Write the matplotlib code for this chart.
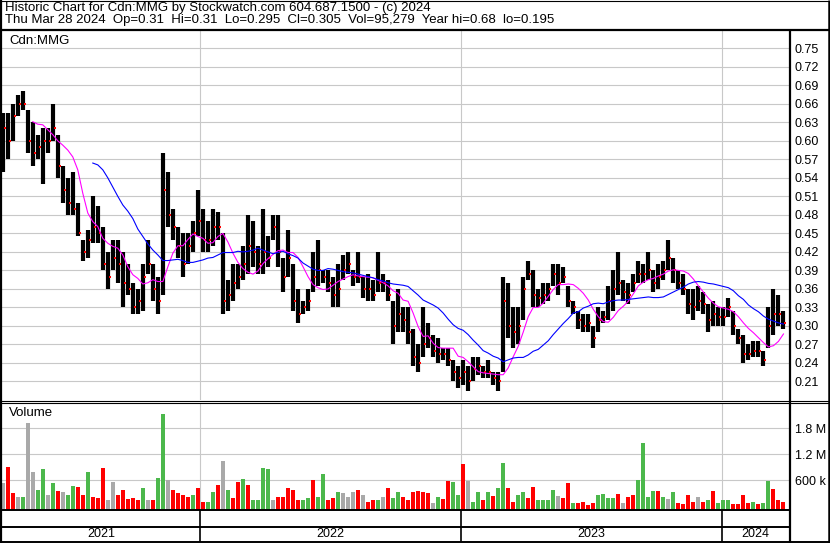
import numpy as np
import pandas as pd
import matplotlib
matplotlib.use('Agg')
import matplotlib.pyplot as plt

plt.rcParams['font.family'] = ['Liberation Sans', 'DejaVu Sans']
FS = 9.0      # numbers
FT = 9.5      # words

# weekly bars (week starting Mondays)
week_start = '2021-03-29'
hi = [0.645, 0.645, 0.66, 0.675, 0.68, 0.65, 0.63, 0.61, 0.62, 0.62,
      0.66, 0.61, 0.56, 0.54, 0.55, 0.50, 0.44, 0.455, 0.51, 0.495,
      0.46, 0.42, 0.44, 0.44, 0.42, 0.40, 0.37, 0.36, 0.40, 0.44,
      0.40, 0.38, 0.58, 0.55, 0.49, 0.46, 0.45, 0.45, 0.47, 0.52,
      0.49, 0.47, 0.49, 0.485, 0.45, 0.375, 0.40, 0.40, 0.43, 0.48,
      0.47, 0.43, 0.49, 0.445, 0.48, 0.48, 0.41, 0.455, 0.40, 0.36,
      0.34, 0.36, 0.42, 0.44, 0.39, 0.39, 0.38, 0.40, 0.415, 0.42,
      0.39, 0.42, 0.38, 0.385, 0.375, 0.42, 0.385, 0.375, 0.34, 0.36,
      0.33, 0.33, 0.295, 0.27, 0.33, 0.305, 0.285, 0.28, 0.265, 0.265,
      0.245, 0.235, 0.245, 0.235, 0.25, 0.25, 0.235, 0.245, 0.225, 0.225,
      0.38, 0.37, 0.33, 0.33, 0.38, 0.405, 0.39, 0.36, 0.37, 0.37,
      0.40, 0.40, 0.395, 0.365, 0.34, 0.325, 0.32, 0.32, 0.30, 0.33,
      0.325, 0.365, 0.39, 0.42, 0.375, 0.37, 0.385, 0.405, 0.40, 0.42,
      0.39, 0.40, 0.405, 0.44, 0.41, 0.39, 0.385, 0.36, 0.36, 0.365,
      0.355, 0.335, 0.34, 0.33, 0.33, 0.345, 0.325, 0.295, 0.285, 0.27,
      0.275, 0.275, 0.26, 0.33, 0.36, 0.35, 0.325]
lo = [0.55, 0.57, 0.60, 0.64, 0.65, 0.58, 0.56, 0.57, 0.53, 0.58,
      0.60, 0.54, 0.50, 0.48, 0.48, 0.445, 0.405, 0.41, 0.435, 0.435,
      0.39, 0.36, 0.39, 0.37, 0.33, 0.35, 0.32, 0.32, 0.325, 0.385,
      0.34, 0.32, 0.35, 0.46, 0.44, 0.41, 0.38, 0.40, 0.42, 0.445,
      0.42, 0.42, 0.43, 0.44, 0.32, 0.325, 0.34, 0.36, 0.375, 0.385,
      0.395, 0.385, 0.385, 0.395, 0.44, 0.395, 0.355, 0.38, 0.325, 0.305,
      0.32, 0.325, 0.355, 0.365, 0.37, 0.355, 0.33, 0.33, 0.375, 0.385,
      0.365, 0.37, 0.345, 0.34, 0.34, 0.355, 0.355, 0.34, 0.27, 0.29,
      0.29, 0.27, 0.235, 0.225, 0.25, 0.265, 0.25, 0.24, 0.245, 0.235,
      0.21, 0.20, 0.205, 0.195, 0.21, 0.22, 0.215, 0.215, 0.205, 0.195,
      0.225, 0.28, 0.265, 0.27, 0.31, 0.375, 0.33, 0.33, 0.335, 0.34,
      0.365, 0.35, 0.37, 0.33, 0.32, 0.295, 0.29, 0.29, 0.265, 0.29,
      0.305, 0.31, 0.325, 0.35, 0.34, 0.335, 0.355, 0.37, 0.37, 0.375,
      0.355, 0.36, 0.375, 0.39, 0.37, 0.36, 0.35, 0.32, 0.31, 0.325,
      0.32, 0.29, 0.30, 0.30, 0.30, 0.315, 0.285, 0.27, 0.24, 0.245,
      0.25, 0.25, 0.235, 0.265, 0.285, 0.30, 0.295]
cl = [0.62, 0.60, 0.64, 0.66, 0.66, 0.60, 0.58, 0.59, 0.60, 0.60,
      0.62, 0.56, 0.52, 0.50, 0.49, 0.45, 0.42, 0.44, 0.46, 0.45,
      0.40, 0.38, 0.41, 0.40, 0.37, 0.36, 0.33, 0.34, 0.38, 0.40,
      0.36, 0.34, 0.52, 0.48, 0.46, 0.43, 0.40, 0.43, 0.45, 0.47,
      0.44, 0.44, 0.46, 0.46, 0.34, 0.35, 0.37, 0.38, 0.40, 0.43,
      0.42, 0.40, 0.42, 0.41, 0.46, 0.42, 0.38, 0.41, 0.34, 0.32,
      0.33, 0.34, 0.38, 0.39, 0.38, 0.37, 0.35, 0.36, 0.39, 0.40,
      0.38, 0.38, 0.36, 0.36, 0.35, 0.37, 0.37, 0.35, 0.30, 0.32,
      0.31, 0.29, 0.25, 0.24, 0.27, 0.28, 0.26, 0.255, 0.255, 0.245,
      0.225, 0.215, 0.225, 0.21, 0.23, 0.235, 0.225, 0.225, 0.215, 0.21,
      0.34, 0.30, 0.29, 0.30, 0.36, 0.385, 0.35, 0.345, 0.35, 0.36,
      0.385, 0.37, 0.38, 0.34, 0.33, 0.31, 0.30, 0.305, 0.28, 0.31,
      0.315, 0.34, 0.36, 0.37, 0.355, 0.35, 0.37, 0.385, 0.385, 0.39,
      0.37, 0.38, 0.39, 0.41, 0.39, 0.37, 0.36, 0.335, 0.33, 0.34,
      0.335, 0.31, 0.32, 0.315, 0.315, 0.33, 0.30, 0.28, 0.255, 0.255,
      0.26, 0.26, 0.245, 0.30, 0.32, 0.32, 0.305]

# moving averages as drawn (magenta from week 6, blue from week 18)
ma_short_start = 6
ma_short = [0.631, 0.627, 0.626, 0.618, 0.61, 0.60, 0.593, 0.585, 0.574, 0.553,
            0.515, 0.483, 0.469, 0.461, 0.442, 0.434, 0.429, 0.426, 0.415, 0.396,
            0.383, 0.377, 0.368, 0.37, 0.375, 0.372, 0.372, 0.396, 0.418, 0.43,
            0.43, 0.44, 0.449, 0.445, 0.442, 0.434, 0.435, 0.445, 0.45, 0.436,
            0.418, 0.403, 0.393, 0.387, 0.384, 0.389, 0.401, 0.409, 0.416, 0.422,
            0.423, 0.419, 0.419, 0.411, 0.396, 0.38, 0.367, 0.362, 0.359, 0.36,
            0.366, 0.372, 0.376, 0.38, 0.383, 0.381, 0.38, 0.379, 0.378, 0.374,
            0.37, 0.365, 0.357, 0.353, 0.342, 0.34, 0.321, 0.299, 0.283, 0.284,
            0.272, 0.265, 0.264, 0.264, 0.264, 0.251, 0.249, 0.242, 0.234, 0.226,
            0.224, 0.223, 0.222, 0.221, 0.221, 0.232, 0.25, 0.267, 0.29, 0.315,
            0.33, 0.33, 0.337, 0.348, 0.359, 0.367, 0.367, 0.368, 0.367, 0.361,
            0.353, 0.342, 0.327, 0.315, 0.307, 0.306, 0.314, 0.325, 0.332, 0.34,
            0.352, 0.365, 0.371, 0.375, 0.377, 0.381, 0.384, 0.389, 0.391, 0.39,
            0.389, 0.385, 0.376, 0.365, 0.355, 0.345, 0.337, 0.331, 0.329, 0.327,
            0.323, 0.315, 0.305, 0.296, 0.289, 0.281, 0.273, 0.266, 0.268, 0.275, 0.287]
ma_long_start = 18
ma_long = [0.564, 0.561, 0.553, 0.54, 0.525, 0.51, 0.496, 0.486, 0.474, 0.457,
           0.445, 0.433, 0.423, 0.415, 0.406, 0.406, 0.407, 0.408, 0.406, 0.403,
           0.403, 0.405, 0.407, 0.41, 0.411, 0.415, 0.419, 0.419, 0.419, 0.421,
           0.42, 0.421, 0.423, 0.426, 0.423, 0.42, 0.417, 0.419, 0.421, 0.417,
           0.414, 0.41, 0.402, 0.397, 0.392, 0.39, 0.39, 0.393, 0.392, 0.39,
           0.388, 0.387, 0.386, 0.384, 0.382, 0.38, 0.378, 0.375, 0.373, 0.37,
           0.368, 0.367, 0.366, 0.364, 0.357, 0.35, 0.342, 0.338, 0.334, 0.329,
           0.321, 0.311, 0.302, 0.296, 0.293, 0.286, 0.277, 0.269, 0.26, 0.256,
           0.251, 0.248, 0.242, 0.245, 0.248, 0.249, 0.249, 0.253, 0.259, 0.262,
           0.269, 0.276, 0.286, 0.295, 0.304, 0.312, 0.321, 0.323, 0.329, 0.332,
           0.336, 0.337, 0.336, 0.339, 0.341, 0.342, 0.342, 0.343, 0.344, 0.345,
           0.346, 0.347, 0.346, 0.346, 0.347, 0.351, 0.355, 0.359, 0.363, 0.368,
           0.371, 0.372, 0.371, 0.369, 0.368, 0.366, 0.364, 0.362, 0.357, 0.349,
           0.343, 0.334, 0.328, 0.323, 0.316, 0.311, 0.308, 0.305, 0.303]

# biggest daily volume in each week (thousands) and its direction (1 up, -1 down, 0 flat)
vol_k = [530, 915, 300, 220, 220, 1915, 800, 380, 860, 260,
         530, 360, 340, 260, 470, 440, 260, 800, 220, 185,
         877, 145, 570, 260, 377, 160, 185, 145, 415, 145,
         145, 660, 2130, 610, 377, 300, 260, 220, 260, 430,
         110, 110, 340, 490, 1050, 377, 185, 570, 630, 490,
         145, 145, 877, 860, 145, 220, 220, 415, 377, 145,
         145, 185, 610, 220, 745, 145, 185, 325, 300, 220,
         340, 377, 260, 110, 145, 145, 220, 415, 185, 320,
         210, 145, 320, 350, 320, 300, 70, 210, 170, 585,
         560, 270, 977, 585, 110, 330, 145, 330, 240, 415,
         1000, 430, 110, 260, 330, 200, 450, 145, 145, 145,
         377, 245, 185, 540, 70, 70, 100, 30, 70, 260,
         275, 185, 185, 275, 80, 210, 260, 610, 1470, 225,
         350, 350, 225, 170, 330, 70, 55, 260, 110, 215,
         110, 145, 350, 70, 145, 145, 55, 55, 260, 70,
         90, 45, 85, 585, 400, 145, 90]
vol_dir = [0, -1, -1, 0, 1, 0, 0, 1, 1, 0,
           1, -1, 0, 1, 1, -1, -1, 1, -1, -1,
           -1, 0, 0, -1, -1, -1, -1, -1, 1, 0,
           -1, 1, 1, 0, -1, -1, -1, -1, 1, -1,
           -1, 1, 1, -1, 0, 1, -1, -1, 1, -1,
           1, 1, 1, 1, 0, -1, -1, -1, -1, -1,
           1, 1, -1, 1, 1, -1, -1, 1, 0, 0,
           0, -1, 0, -1, -1, 1, 0, -1, 1, 1,
           -1, -1, -1, -1, -1, -1, 0, 1, -1, -1,
           1, 1, -1, 0, 1, 1, -1, 1, -1, 1,
           1, -1, -1, 1, 1, -1, -1, 1, 1, 1,
           1, 0, -1, -1, 1, -1, -1, -1, -1, 1,
           1, 1, 1, -1, 0, -1, -1, 1, 1, 1,
           1, -1, 1, 0, 1, -1, -1, -1, -1, 0,
           -1, 1, -1, 1, 1, 1, -1, -1, -1, -1,
           1, -1, 1, 1, -1, -1, -1]

price_ticks = [0.21, 0.24, 0.27, 0.30, 0.33, 0.36, 0.39, 0.42, 0.45, 0.48,
               0.51, 0.54, 0.57, 0.60, 0.63, 0.66, 0.69, 0.72, 0.75]
vol_ticks = [600000, 1200000, 1800000]
vol_labels = ['600 k', '1.2 M', '1.8 M']
years = ['2021', '2022', '2023', '2024']

title1 = 'Historic Chart for Cdn:MMG by Stockwatch.com 604.687.1500 - (c) 2024'
title2 = ('Thu Mar 28 2024  Op=0.31  Hi=0.31  Lo=0.295  Cl=0.305  Vol=95,279  '
          'Year hi=0.68  lo=0.195')

weeks = pd.date_range(week_start, periods=len(hi), freq='7D')
mid = weeks + pd.Timedelta(days=2)
x0, x1 = pd.Timestamp('2021-03-30'), pd.Timestamp('2024-04-03 18:00')
ybounds = [pd.Timestamp(f'{y}-01-01') for y in years[1:]]
vol = np.array(vol_k) * 1000.0
vcol = {1: '#4cb84c', -1: '#ff0000', 0: '#a9a9a9'}

W, H = 830, 543
fig = plt.figure(figsize=(W / 100, H / 100), dpi=100)


def px_axes(left, top, right, bottom, **kw):
    return fig.add_axes([left / W, 1 - bottom / H, (right - left) / W, (bottom - top) / H], **kw)


def setup(ax):
    for s in ax.spines.values():
        s.set_visible(False)
    ax.set_xlim(x0, x1)
    ax.set_xticks(ybounds)
    ax.tick_params(axis='x', length=0, labelbottom=False)
    ax.grid(True, color='#c8c8c8', lw=0.8)
    ax.set_axisbelow(True)


# price panel
ax = px_axes(2, 31, 789, 400)
setup(ax)
ax.set_ylim(0.180, 0.778)
ax.set_yticks(price_ticks)
ax.set_yticklabels([f'{t:.2f}' for t in price_ticks])
ax.yaxis.tick_right()
ax.tick_params(axis='y', length=0, pad=4.2, labelsize=FS)
ax.vlines(mid, lo, hi, color='black', lw=3.0)
ax.plot(mid + pd.Timedelta(days=2.5), cl, ls='', marker='s', ms=1.6, mew=0, color='red')
ax.plot(mid[ma_short_start:ma_short_start + len(ma_short)], ma_short, color='#ff00ff', lw=0.8)
ax.plot(mid[ma_long_start:ma_long_start + len(ma_long)], ma_long, color='#0000ff', lw=0.8)

# volume panel
axv = px_axes(2, 403, 789, 509.5)
setup(axv)
vb = -74000
axv.set_ylim(vb, 2384000)
axv.set_yticks(vol_ticks)
axv.set_yticklabels(vol_labels)
axv.yaxis.tick_right()
axv.tick_params(axis='y', length=0, pad=4.2, labelsize=FS)
axv.bar(mid, vol - vb, bottom=vb, width=5.6, color=[vcol[d] for d in vol_dir], lw=0)

# date strip
axs = px_axes(2, 510, 789, 542)
for s in axs.spines.values():
    s.set_visible(False)
axs.set_xlim(x0, x1)
axs.set_ylim(0, 1)
axs.set_xticks([])
axs.set_yticks([])
for b in ybounds:
    axs.axvline(b, color='black', lw=1.2)
edges = [x0] + ybounds + [x1]
for i, y in enumerate(years):
    axs.text(edges[i] + (edges[i + 1] - edges[i]) / 2, 0.24, y, ha='center', va='center', fontsize=FS)

# frame and header drawn in pixel space
ov = fig.add_axes([0, 0, 1, 1], zorder=10)
ov.set_xlim(0, W)
ov.set_ylim(H, 0)
ov.axis('off')
ov.patch.set_alpha(0)
k = dict(color='black', solid_capstyle='butt')
ov.plot([0, W], [0.5, 0.5], lw=0.8, **k)
ov.plot([1, 1], [0, H], lw=1.6, **k)
ov.plot([W - 1.2, W - 1.2], [0, H], lw=1.8, **k)
ov.plot([0, W], [542, 542], lw=1.4, **k)
ov.plot([0, W], [30.3, 30.3], lw=1.6, **k)
ov.plot([789.5, 789.5], [30, H], lw=1.6, **k)
ov.plot([0, W], [400.5, 400.5], lw=0.8, **k)
ov.plot([0, W], [402.5, 402.5], lw=0.8, **k)
ov.plot([0, 789.5], [510, 510], lw=1.4, **k)
ov.plot([0, 789.5], [527, 527], lw=1.4, **k)
ov.text(5, 2.0, title1 + '\n' + title2, va='top', fontsize=FT, linespacing=0.98)
ov.text(9, 41.5, 'Cdn:MMG', va='center', fontsize=FT)
ov.text(9, 413, 'Volume', va='center', fontsize=FT)

fig.savefig('out.png', dpi=100)
